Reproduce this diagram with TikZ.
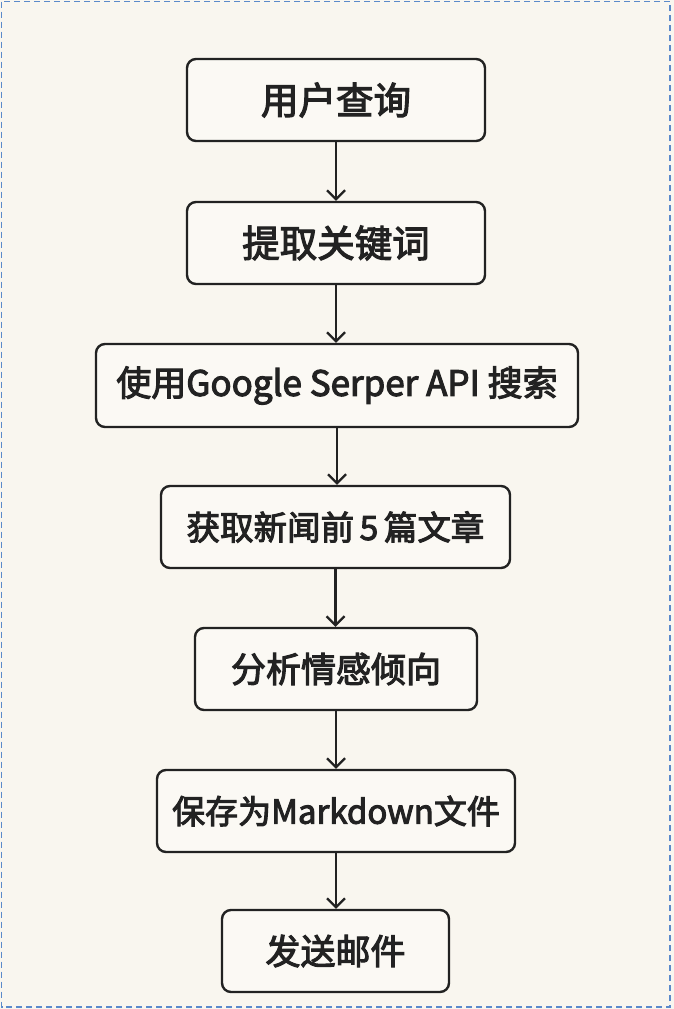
\documentclass[tikz,border=0pt]{standalone}
\usepackage{fontspec}
\setmainfont{Noto Sans CJK SC}[FakeBold=3]
\usetikzlibrary{arrows.meta}
\definecolor{bgc}{HTML}{F9F6EF}
\definecolor{boxc}{HTML}{FBF9F4}
\definecolor{framec}{HTML}{5B8ACB}
\definecolor{linec}{HTML}{222222}
\tikzset{
  stepbox/.style={draw=linec, line width=2.4pt, fill=boxc, rounded corners=9pt, inner sep=0pt, text=linec},
  flow/.style={draw=linec, line width=2.2pt, -{Straight Barb[length=9pt,width=18pt,line width=2.2pt]}}
}
\begin{document}
\begin{tikzpicture}[x=1pt,y=-1pt]
\useasboundingbox (0,0) rectangle (674,1009);
\fill[bgc] (0,0) rectangle (674,1009);
\draw[framec, line width=1.7pt, dash pattern=on 6pt off 4pt] (1.5,1.5) rectangle (670,1007);
\node[stepbox, minimum width=298pt, minimum height=82pt, font=\fontsize{37.5}{42}\selectfont] (n1) at (336,100) {用户查询};
\node[stepbox, minimum width=298pt, minimum height=82pt, font=\fontsize{37.5}{42}\selectfont] (n2) at (336,243) {提取关键词};
\node[stepbox, minimum width=482pt, minimum height=83pt, font=\fontsize{35}{40}\selectfont] (n3) at (337,385.5) {使用Google Serper API 搜索};
\node[stepbox, minimum width=349pt, minimum height=82pt, font=\fontsize{33.5}{38}\selectfont] (n4) at (335.5,527) {获取新闻前\,5\,篇文章};
\node[stepbox, minimum width=282pt, minimum height=82pt, font=\fontsize{35}{40}\selectfont] (n5) at (336,669) {分析情感倾向};
\node[stepbox, minimum width=358pt, minimum height=82pt, font=\fontsize{33}{38}\selectfont] (n6) at (336,811) {保存为Markdown文件};
\node[stepbox, minimum width=227pt, minimum height=82pt, font=\fontsize{35}{40}\selectfont] (n7) at (335.5,951) {发送邮件};
\foreach \a/\b in {n1/n2,n2/n3,n3/n4,n4/n5,n5/n6,n6/n7}
  \draw[flow] (\a.south) -- (\a.south |- \b.north);
\end{tikzpicture}
\end{document}
